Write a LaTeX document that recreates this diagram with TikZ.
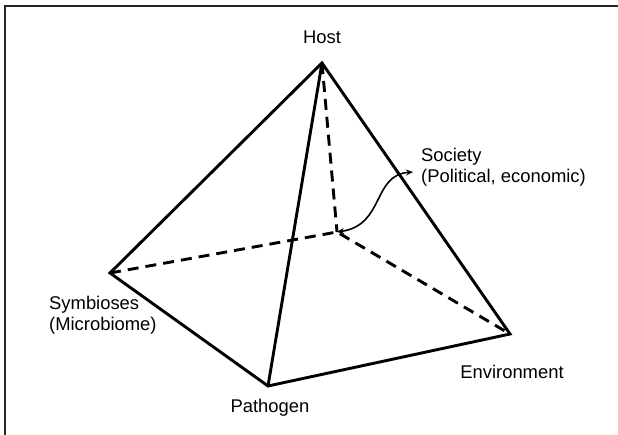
\documentclass[tikz,border=0pt]{standalone}
\usepackage{fontspec}
\setmainfont{Liberation Sans}
\usetikzlibrary{arrows.meta}

\tikzset{
  edge/.style={line width=2.9pt, line join=miter},
  hidden/.style={line width=2.9pt, dash pattern=on 11pt off 7pt},
  label/.style={font=\fontsize{18.4}{21}\selectfont, inner sep=0pt, align=left}
}

\begin{document}
\begin{tikzpicture}[x=1pt, y=-1pt]
\useasboundingbox (0,0) rectangle (618,435);

% frame
\draw [line width=1.8pt, color=black!85] (618,6) -- (5,6) -- (5,435);

% corners of the pyramid
\coordinate (host) at (322,63);
\coordinate (back) at (337,232);
\coordinate (symb) at (110,273);
\coordinate (path) at (268,386);
\coordinate (env)  at (510,334);

% hidden edges
\draw [hidden] (host) -- (back);
\draw [hidden] (symb) -- (back) -- (env);

% visible edges
\draw [edge] (host) -- (symb) -- (path) -- (env) -- cycle;
\draw [edge] (host) -- (path);

% labels
\node (hostlabel) [label] at (322,37) {Host};
\node (soclabel) [label, anchor=west] at (421,167) {Society\\(Political, economic)};
\node (symblabel) [label, anchor=west] at (49,315) {Symbioses\\(Microbiome)};
\node (pathlabel) [label] at (270,408) {Pathogen};
\node (envlabel) [label] at (512,372) {Environment};

% link to society
\coordinate (soc) at (413,172);
\draw [{Stealth[length=7pt,width=6pt]}-{Stealth[length=7pt,width=6pt]}, line width=1.6pt]
  (back) .. controls (385,225) and (372,175) .. (soc);

\end{tikzpicture}
\end{document}
